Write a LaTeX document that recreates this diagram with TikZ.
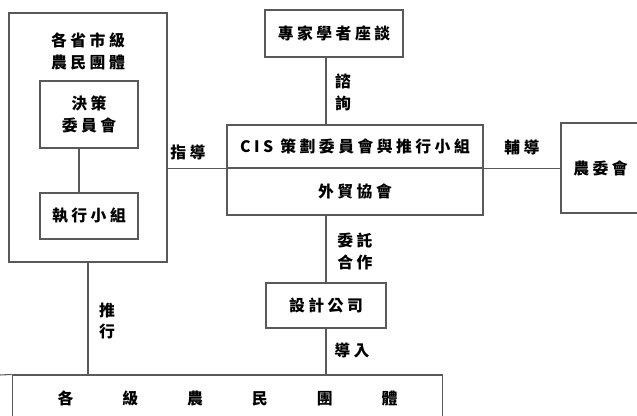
\documentclass[tikz,border=0pt]{standalone}
\usepackage{fontspec}
\setmainfont{Noto Sans CJK TC}[LetterSpace=22]
\usetikzlibrary{calc}
\tikzset{
	boxed/.style={draw=black!65, line width=0.6pt, inner sep=0pt, align=center},
	lbl/.style={inner sep=0pt, align=center},
	wire/.style={draw=black!65, line width=0.6pt}
}

\begin{document}
\begin{tikzpicture}[x=0.02cm, y=-0.02cm, font=\fontsize{9}{12.5}\selectfont\bfseries]
			%%%%% START %%%%%
			\useasboundingbox (0,0) rectangle (637,416);
			\clip (0,0) rectangle (637,416);
			
			\node[boxed, minimum width=3.16cm, minimum height=4.98cm] (prov) at (88,137.5) {};
			\node[lbl] (provtitle) at (88,51) {各省市級\\農民團體};
			\node[boxed, minimum width=1.96cm, minimum height=1.34cm] (decide) at (89,114.5) {決策\\委員會};
			\node[boxed, minimum width=1.96cm, minimum height=0.92cm] (exec) at (89,216) {執行小組};
			\draw[wire] ([xshift=-0.2cm]decide.south) -- ([xshift=-0.2cm]exec.north);
			
			\node[boxed, minimum width=2.76cm, minimum height=0.94cm] (expert) at (334,33.5) {專家學者座談};
			\node[boxed, minimum width=5.12cm, minimum height=0.86cm] (cisup) at (355,146.5) {CIS 策劃委員會與推行小組};
			\node[boxed, minimum width=5.12cm, minimum height=0.94cm] (cislow) at (355,191.5) {外貿協會};
			\node[boxed, minimum width=1.58cm, minimum height=1.8cm] (coa) at (600.5,168) {農委會};
			\node[boxed, minimum width=2.4cm, minimum height=0.9cm] (design) at (326,305.5) {設計公司};
			\node[boxed, minimum width=8.62cm, minimum height=0.92cm] (farmers) at (227.5,398) {各\hspace{9.8mm}級\hspace{9.8mm}農\hspace{9.8mm}民\hspace{9.8mm}團\hspace{9.8mm}體};
			\coordinate (stub) at (0,375);
			
			% links
			\draw[wire] (prov.east |- cisup.south) -- (coa.west |- cisup.south);
			\draw[wire] (design.north |- expert.south) -- (design.north |- cisup.north);
			\draw[wire] (design.north |- cislow.south) -- (design.north);
			\draw[wire] (design.south) -- (design.south |- farmers.north);
			\draw[wire] (prov.south) -- (prov.south |- farmers.north);
			\draw[wire] (farmers.north west) -- (stub);
			
			% labels
			\node[lbl] (consult) at (343,92.5) {諮\\詢};
			\node[lbl] (guide) at (188,152) {指導};
			\node[lbl] (assist) at (522,147) {輔導};
			\node[lbl] (entrust) at (355,251) {委託\\合作};
			\node[lbl] (intro) at (352,350) {導入};
			\node[lbl] (promote) at (107,321) {推\\行};
			%%%%% END %%%%%
		\end{tikzpicture}
\end{document}
